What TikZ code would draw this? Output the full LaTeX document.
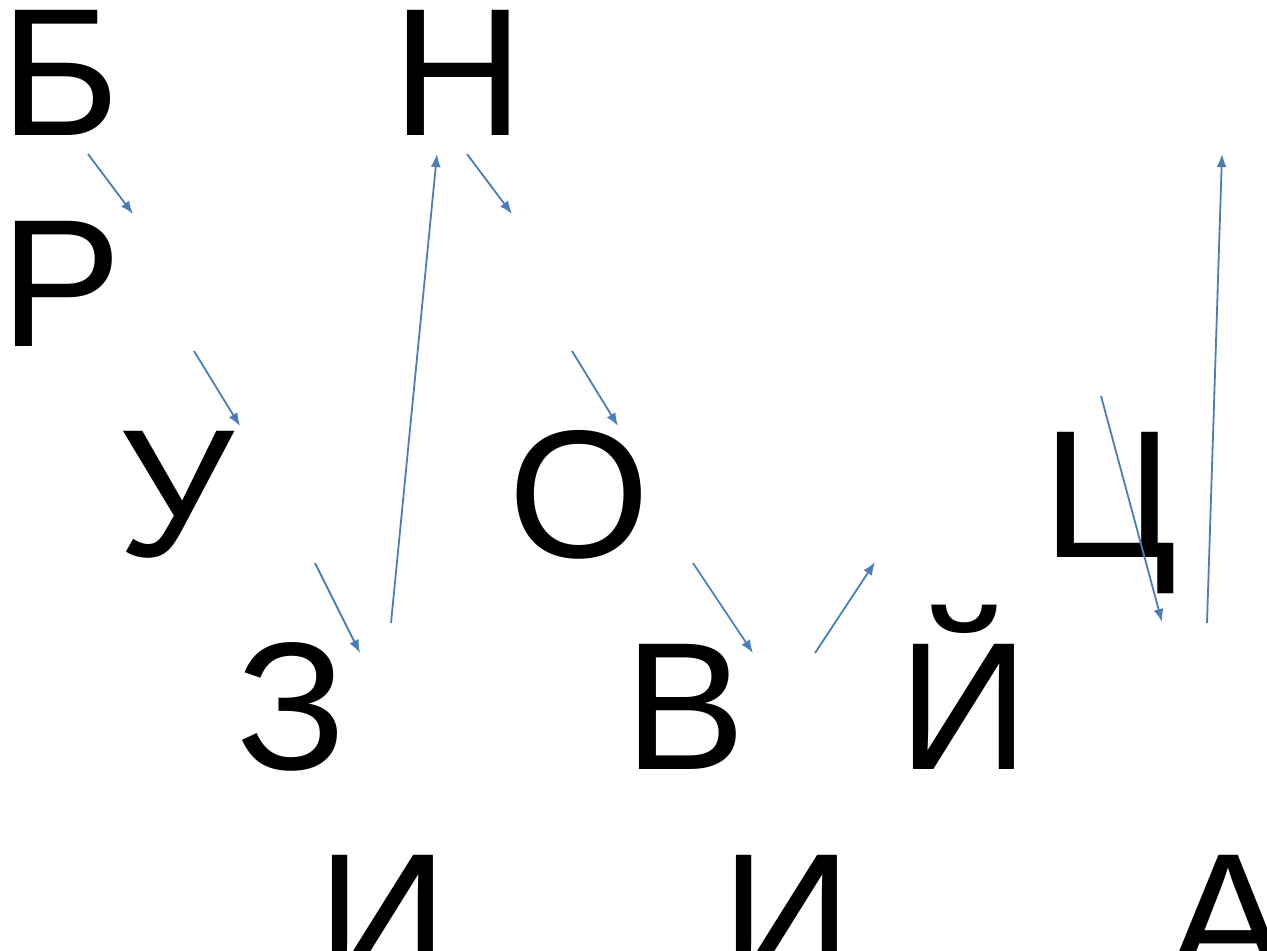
\documentclass[tikz,border=0pt]{standalone}
\usepackage{fontspec}
\setmainfont{Liberation Sans}
\usepackage{xcolor}
\usepackage{tikz}
\usetikzlibrary{arrows.meta}
\definecolor{ArrowBlue}{HTML}{4A7EBB}

\begin{document}
\begin{tikzpicture}[x=0.5pt, y=-0.5pt, >={Latex[length=6.5pt,width=5pt]},
                    letter/.style={inner sep=0pt, anchor=base,
                                   font=\fontsize{91pt}{91pt}\selectfont},
                    link/.style={draw=ArrowBlue, line width=0.9pt, ->}]
\useasboundingbox (0,0) rectangle (1267,950);
% letters
\node[letter] (b) at (60,135) {Б};
\node[letter] (n) at (458,135) {Н};
\node[letter] (r) at (61,346) {Р};
\node[letter] (u) at (176,556) {У};
\node[letter] (o) at (579,557) {О};
\node[letter] (ts) at (1110,557) {Ц};
\node[letter] (z) at (291,769) {З};
\node[letter] (v) at (685,769) {В};
\node[letter] (j) at (964,769) {Й};
\node[letter] (i1) at (383,980) {И};
\node[letter] (i2) at (787,980) {И};
\node[letter] (a) at (1228,980) {А};
% arrow ends
\coordinate (b-s) at (88,154);    \coordinate (b-e) at (133,214);
\coordinate (n-s) at (467,154);   \coordinate (n-e) at (512,214);
\coordinate (r-s) at (194,351);   \coordinate (r-e) at (240,426);
\coordinate (o-s) at (572,351);   \coordinate (o-e) at (618,426);
\coordinate (u-s) at (315,563);   \coordinate (u-e) at (360,653);
\coordinate (z-s) at (391,623);   \coordinate (z-e) at (437,154);
\coordinate (v-s) at (693,563);   \coordinate (v-e) at (753,653);
\coordinate (j-s) at (815,653);   \coordinate (j-e) at (875,562);
\coordinate (ts-s) at (1101,396); \coordinate (ts-e) at (1162,622);
\coordinate (a-s) at (1207,623);  \coordinate (a-e) at (1222,154);
\draw[link] (b-s) -- (b-e);
\draw[link] (n-s) -- (n-e);
\draw[link] (r-s) -- (r-e);
\draw[link] (o-s) -- (o-e);
\draw[link] (u-s) -- (u-e);
\draw[link] (z-s) -- (z-e);
\draw[link] (v-s) -- (v-e);
\draw[link] (j-s) -- (j-e);
\draw[link] (ts-s) -- (ts-e);
\draw[link] (a-s) -- (a-e);
\end{tikzpicture}
\end{document}
